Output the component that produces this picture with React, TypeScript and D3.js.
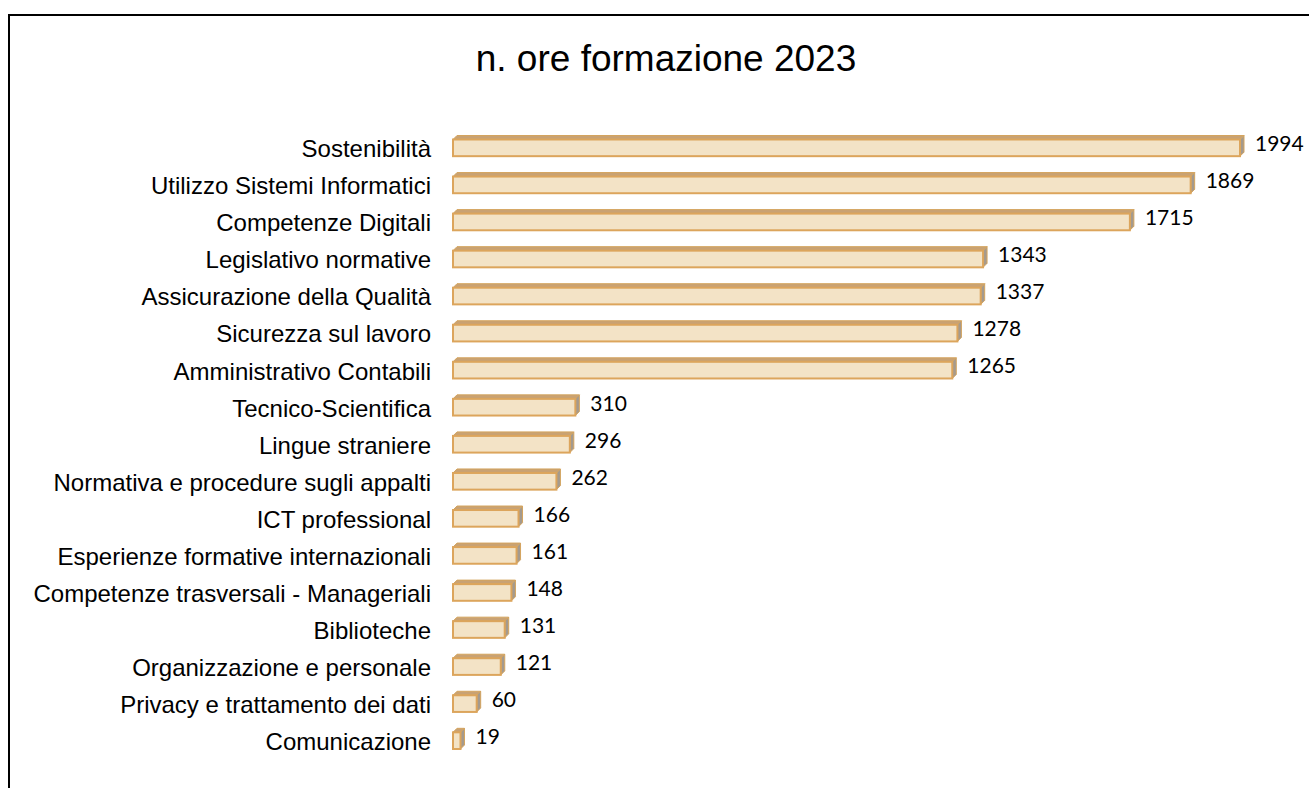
import React, { useEffect, useRef } from "react";
import * as d3 from "d3";

const categories = [
  "Sostenibilità",
  "Utilizzo Sistemi Informatici",
  "Competenze Digitali",
  "Legislativo normative",
  "Assicurazione della Qualità",
  "Sicurezza sul lavoro",
  "Amministrativo Contabili",
  "Tecnico-Scientifica",
  "Lingue straniere",
  "Normativa e procedure sugli appalti",
  "ICT professional",
  "Esperienze formative internazionali",
  "Competenze trasversali - Manageriali",
  "Biblioteche",
  "Organizzazione e personale",
  "Privacy e trattamento dei dati",
  "Comunicazione",
];
const values = [1994, 1869, 1715, 1343, 1337, 1278, 1265, 310, 296, 262, 166, 161, 148, 131, 121, 60, 19];
const title = "n. ore formazione 2023";

const W = 1309;
const H = 788;

function App() {
  const ref = useRef<SVGSVGElement>(null);

  useEffect(() => {
    const svg = d3.select(ref.current);
    svg.selectAll("*").remove();

    // frame (only top and left visible)
    svg
      .append("path")
      .attr("d", `M9,${H + 5} L9,15 L${W + 5},15`)
      .attr("fill", "none")
      .attr("stroke", "#000")
      .attr("stroke-width", 2);

    svg
      .append("text")
      .text(title)
      .attr("x", 666)
      .attr("y", 71)
      .attr("text-anchor", "middle")
      .style("font-family", "Liberation Sans, Arial, sans-serif")
      .style("font-size", "37px")
      .attr("fill", "#000");

    const x = d3.scaleLinear().domain([0, 1994]).range([453, 1240]);
    const y = d3
      .scaleBand()
      .domain(categories)
      .range([129.5, 759])
      .paddingInner(0.55)
      .paddingOuter(0.27);

    const depth = 4;
    const data = categories.map((c, i) => ({ label: c, value: values[i] }));

    const g = svg.append("g");
    const bar = g.selectAll("g.bar").data(data).enter().append("g");

    // top face
    bar
      .append("path")
      .attr("d", (d) => {
        const x0 = x(0), x1 = x(d.value), y0 = y(d.label)!;
        return `M${x0},${y0} L${x0 + depth},${y0 - depth} L${x1 + depth},${y0 - depth} L${x1},${y0} Z`;
      })
      .attr("fill", "#C9A273")
      .attr("stroke", "#D4A45E")
      .attr("stroke-width", 1);

    // side face
    bar
      .append("path")
      .attr("d", (d) => {
        const x1 = x(d.value), y0 = y(d.label)!, h = y.bandwidth();
        return `M${x1},${y0} L${x1 + depth},${y0 - depth} L${x1 + depth},${y0 + h - depth} L${x1},${y0 + h} Z`;
      })
      .attr("fill", "#A49A8E")
      .attr("stroke", "#D4A45E")
      .attr("stroke-width", 1);

    // front face
    bar
      .append("rect")
      .attr("x", x(0))
      .attr("y", (d) => y(d.label)!)
      .attr("width", (d) => x(d.value) - x(0))
      .attr("height", y.bandwidth())
      .attr("fill", "#F3E3C6")
      .attr("stroke", "#DCA55C")
      .attr("stroke-width", 2);

    bar
      .append("text")
      .text((d) => d.value)
      .attr("x", (d) => x(d.value) + depth + 11)
      .attr("y", (d) => y(d.label)! + y.bandwidth() / 2 - 4)
      .attr("dy", "0.35em")
      .style("font-family", "Lato, Open Sans, sans-serif")
      .style("font-size", "21px")
      .attr("fill", "#000");

    g.selectAll("text.cat")
      .data(data)
      .enter()
      .append("text")
      .attr("class", "cat")
      .text((d) => d.label)
      .attr("x", 431)
      .attr("y", (d) => y(d.label)! + y.bandwidth() / 2 + 1)
      .attr("dy", "0.35em")
      .attr("text-anchor", "end")
      .style("font-family", "Liberation Sans, Arial, sans-serif")
      .style("font-size", "24px")
      .attr("fill", "#000");
  }, []);

  return (
    <svg
      ref={ref}
      width={W}
      height={H}
      style={{ position: "absolute", left: 0, top: 0, background: "#fff" }}
    ></svg>
  );
}

export default App;
